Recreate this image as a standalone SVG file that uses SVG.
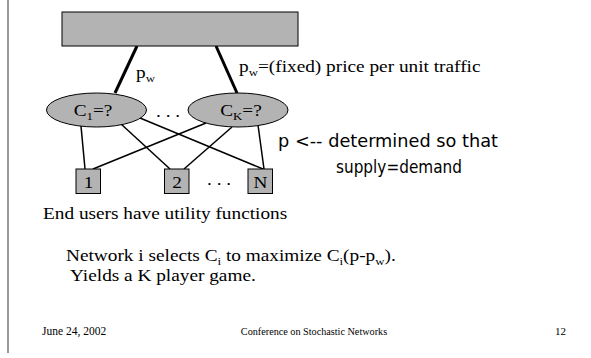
<svg xmlns="http://www.w3.org/2000/svg" width="591" height="358" viewBox="0 0 591 358">
  <style>
    .serif { font-family: "Liberation Serif", "Times New Roman", serif; fill: #000; }
    .lbl { font-size: 16.5px; }
    .sub { font-size: 11px; }
    .hand { font-family: "DejaVu Sans", "Noto Sans", sans-serif; font-size: 17px; fill: #000; }
    .foot { font-family: "Liberation Serif", "Times New Roman", serif; fill: #000; }
    .box { fill: #b3b3b3; stroke: #000; stroke-width: 1; }
    .thick { stroke: #000; stroke-width: 3; fill: none; }
    .thin { stroke: #000; stroke-width: 1.5; fill: none; }
  </style>

  <!-- page edge -->
  <line x1="8" y1="0" x2="8" y2="353" stroke="#555" stroke-width="1.2"/>

  <!-- connectors -->
  <g id="connectors">
    <line class="thick" x1="137" y1="46" x2="115" y2="93"/>
    <line class="thick" x1="216" y1="46" x2="237" y2="93"/>
    <line class="thin" x1="81" y1="126" x2="85" y2="169"/>
    <line class="thin" x1="121" y1="124" x2="170" y2="169"/>
    <line class="thin" x1="140" y1="118" x2="263" y2="169"/>
    <line class="thin" x1="206" y1="123" x2="93" y2="169"/>
    <line class="thin" x1="232" y1="127" x2="184" y2="169"/>
    <line class="thin" x1="258" y1="125" x2="264" y2="169"/>
  </g>

  <!-- wholesale provider -->
  <g id="provider">
    <rect class="box" x="62" y="12" width="236" height="34"/>
  </g>

  <!-- networks -->
  <g id="net-1">
    <ellipse class="box" cx="96.5" cy="110" rx="50" ry="17"/>
    <text class="serif lbl" text-anchor="middle" transform="translate(93,116) scale(1.17,1)">C<tspan class="sub" dy="4">1</tspan><tspan dy="-4">=?</tspan></text>
  </g>
  <text class="serif lbl" transform="translate(156,117) scale(1.17,1)">. . .</text>
  <g id="net-k">
    <ellipse class="box" cx="238" cy="110" rx="50" ry="17"/>
    <text class="serif lbl" text-anchor="middle" transform="translate(241,116) scale(1.17,1)">C<tspan class="sub" dy="4">K</tspan><tspan dy="-4">=?</tspan></text>
  </g>

  <!-- end users -->
  <g id="user-1">
    <rect class="box" x="76" y="169" width="24.5" height="24.5"/>
    <text class="serif lbl" text-anchor="middle" transform="translate(88.5,187.5) scale(1.17,1)">1</text>
  </g>
  <g id="user-2">
    <rect class="box" x="164.5" y="169" width="24.5" height="24.5"/>
    <text class="serif lbl" text-anchor="middle" transform="translate(177,187.5) scale(1.17,1)">2</text>
  </g>
  <text class="serif lbl" transform="translate(207,185) scale(1.17,1)">. . .</text>
  <g id="user-n">
    <rect class="box" x="248" y="169" width="24.5" height="24.5"/>
    <text class="serif lbl" text-anchor="middle" transform="translate(260.5,187.5) scale(1.17,1)">N</text>
  </g>

  <!-- price labels -->
  <text class="serif lbl" transform="translate(136,78) scale(1.17,1)">p<tspan class="sub" dy="4">w</tspan></text>
  <text class="serif lbl" transform="translate(239,72) scale(1.17,1)">p<tspan class="sub" dy="4">w</tspan><tspan dy="-4">=(fixed) price per unit traffic</tspan></text>

  <text class="hand" x="278" y="147" textLength="220" lengthAdjust="spacingAndGlyphs">p &lt;-- determined so that</text>
  <text class="hand" x="336" y="173" textLength="126" lengthAdjust="spacingAndGlyphs">supply=demand</text>

  <!-- body text -->
  <text class="serif lbl" transform="translate(43,219) scale(1.17,1)">End users have utility functions</text>
  <text class="serif lbl" transform="translate(66,261) scale(1.17,1)">Network i selects C<tspan class="sub" dy="4">i</tspan><tspan dy="-4"> to maximize C</tspan><tspan class="sub" dy="4">i</tspan><tspan dy="-4">(p-p</tspan><tspan class="sub" dy="4">w</tspan><tspan dy="-4">).</tspan></text>
  <text class="serif lbl" transform="translate(70,281) scale(1.17,1)">Yields a K player game.</text>

  <!-- footer -->
  <text class="foot" x="42" y="335" font-size="11.5">June 24, 2002</text>
  <text class="foot" x="314" y="335" font-size="10.2" text-anchor="middle">Conference on Stochastic Networks</text>
  <text class="foot" x="555" y="335" font-size="11">12</text>
</svg>
